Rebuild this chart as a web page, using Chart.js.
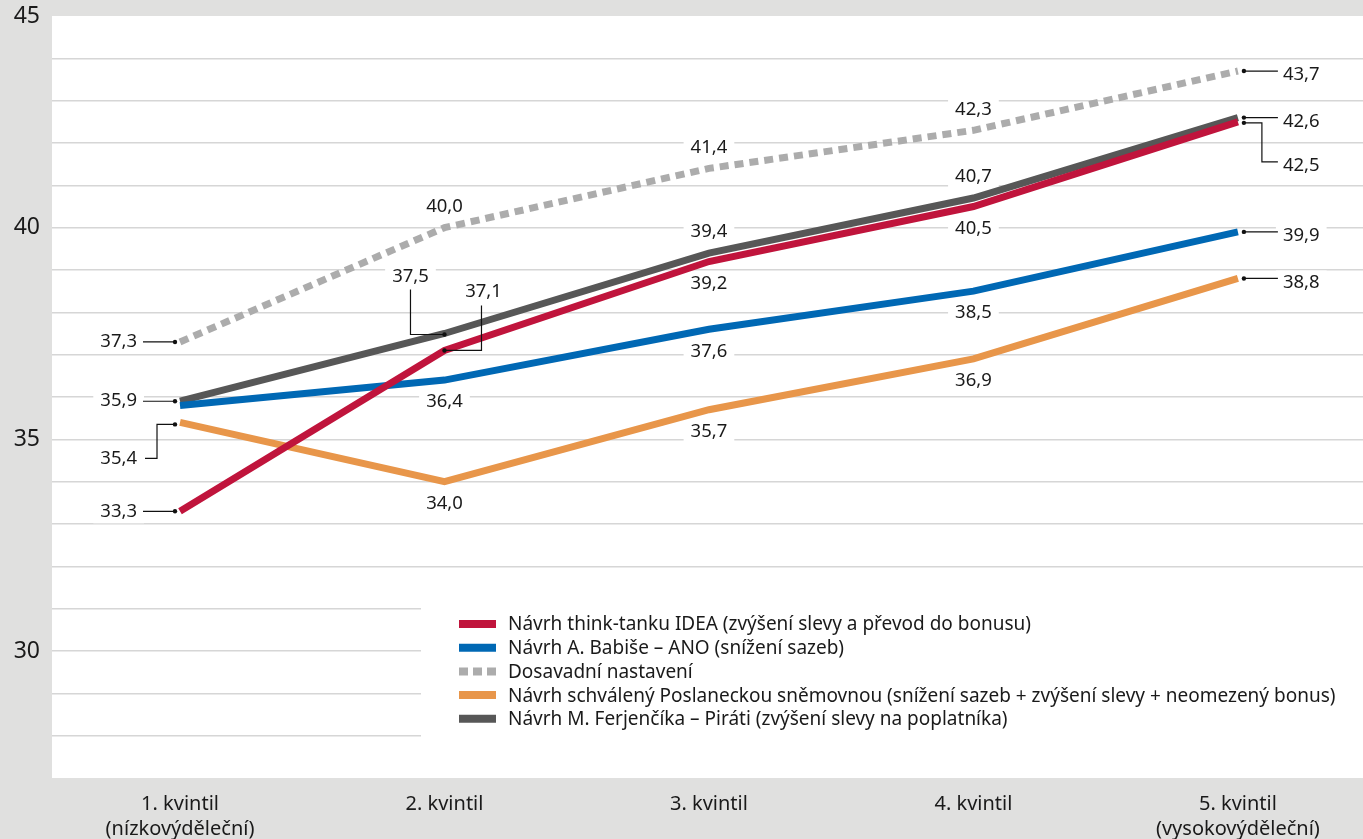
<!DOCTYPE html>
<html><head><meta charset="utf-8">
<script src="https://cdn.jsdelivr.net/npm/chart.js@4.4.1/dist/chart.umd.min.js"></script>
<style>html,body{margin:0;padding:0;background:#e0e0df;overflow:hidden}#wrap{width:1363px;height:839px;position:relative}</style>
</head><body><div id="wrap"><canvas id="c"></canvas></div>
<script>
// ---- data ----
const categories = [
  ['1. kvintil', '(nízkovýděleční)'],
  ['2. kvintil'],
  ['3. kvintil'],
  ['4. kvintil'],
  ['5. kvintil', '(vysokovýděleční)']
];
const yTickLabels = [30, 35, 40, 45];
const ideaValues       = [33.3, 37.1, 39.2, 40.5, 42.5];
const anoValues        = [35.8, 36.4, 37.6, 38.5, 39.9];
const dosavadniValues  = [37.3, 40.0, 41.4, 42.3, 43.7];
const snemovnaValues   = [35.4, 34.0, 35.7, 36.9, 38.8];
const piratiValues     = [35.9, 37.5, 39.4, 40.7, 42.6];
const seriesNames = [
  'Návrh think-tanku IDEA (zvýšení slevy a převod do bonusu)',
  'Návrh A. Babiše – ANO (snížení sazeb)',
  'Dosavadní nastavení',
  'Návrh schválený Poslaneckou sněmovnou (snížení sazeb + zvýšení slevy + neomezený bonus)',
  'Návrh M. Ferjenčíka – Piráti (zvýšení slevy na poplatníka)'
];

// ---- styling ----
const colors = ['#c0143c', '#0068b4', '#acacac', '#e8964a', '#575757'];
const dashes = [[], [], [9, 6], [], []];
const FONT = '"Noto Sans", "DejaVu Sans", sans-serif';
const TEXT = '#1a1a1a';

// value label placement: [dataset, point, mode]
const labelLayout = [
  [2,0,'left'],[4,0,'left'],[3,0,'elbowLeft'],[0,0,'left'],
  [2,1,'above'],[4,1,'upLeft'],[0,1,'upRight'],[1,1,'below'],[3,1,'below'],
  [2,2,'above'],[4,2,'above'],[0,2,'below'],[1,2,'below'],[3,2,'below'],
  [2,3,'above'],[4,3,'above'],[0,3,'below'],[1,3,'below'],[3,3,'below'],
  [2,4,'right'],[4,4,'right'],[0,4,'elbowRight'],[1,4,'right'],[3,4,'right']
];

const allSeries = [ideaValues, anoValues, dosavadniValues, snemovnaValues, piratiValues];
const fmt = v => v.toFixed(1).replace('.', ',');

function labelGeom(ctx, chart, ds, i, mode) {
  const p = chart.getDatasetMeta(ds).data[i];
  const x = p.x, y = p.y;
  const text = fmt(allSeries[ds][i]);
  const w = ctx.measureText(text).width;
  const g = {text, w, leader: null, dot: null};
  switch (mode) {
    case 'above': g.tx = x; g.ty = y - 21; break;
    case 'below': g.tx = x; g.ty = y + 22; break;
    case 'left':
      g.tx = x - 43 - w / 2; g.ty = y;
      g.dot = [x - 5, y]; g.leader = [[x - 5, y], [x - 37, y]]; break;
    case 'elbowLeft':
      g.tx = x - 43 - w / 2; g.ty = y + 36;
      g.dot = [x - 5, y + 2]; g.leader = [[x - 5, y + 2], [x - 23, y + 2], [x - 23, y + 36], [x - 35, y + 36]]; break;
    case 'right':
      g.tx = x + 45 + w / 2; g.ty = y + 4;
      g.dot = [x + 6, y]; g.leader = [[x + 6, y], [x + 40, y]]; break;
    case 'elbowRight':
      g.tx = x + 45 + w / 2; g.ty = y + 44;
      g.dot = [x + 6, y + 1]; g.leader = [[x + 6, y + 1], [x + 24, y + 1], [x + 24, y + 40], [x + 40, y + 40]]; break;
    case 'upLeft':
      g.tx = x - 34; g.ty = y - 57;
      g.dot = [x, y + 1]; g.leader = [[x, y + 1], [x - 34, y + 1], [x - 34, y - 44]]; break;
    case 'upRight':
      g.tx = x + 39; g.ty = y - 59;
      g.dot = [x, y]; g.leader = [[x, y], [x + 37, y], [x + 37, y - 45]]; break;
  }
  return g;
}

const plotBg = {
  id: 'plotBg',
  beforeDraw(chart) {
    const {ctx, chartArea: a} = chart;
    ctx.save();
    ctx.fillStyle = '#e0e0df';
    ctx.fillRect(0, 0, chart.width, chart.height);
    ctx.fillStyle = '#ffffff';
    ctx.fillRect(a.left, a.top, a.right - a.left, a.bottom - a.top);
    ctx.restore();
  },
  beforeDatasetsDraw(chart) {
    const {ctx, chartArea: a} = chart;
    ctx.save();
    ctx.fillStyle = '#ffffff';
    ctx.fillRect(a.left + 369, 585, a.right - a.left - 369, a.bottom - 585);
    ctx.font = '18.5px ' + FONT;
    labelLayout.forEach(([ds, i, mode]) => {
      const g = labelGeom(ctx, chart, ds, i, mode);
      ctx.fillRect(g.tx - g.w / 2 - 7, g.ty - 12, g.w + 14, 24);
    });
    ctx.restore();
  },
  afterDatasetsDraw(chart) {
    const {ctx} = chart;
    ctx.save();
    ctx.font = '18.5px ' + FONT;
    ctx.textAlign = 'center';
    ctx.textBaseline = 'middle';
    labelLayout.forEach(([ds, i, mode]) => {
      const g = labelGeom(ctx, chart, ds, i, mode);
      if (g.leader) {
        ctx.strokeStyle = '#111';
        ctx.lineWidth = 1.2;
        ctx.beginPath();
        g.leader.forEach((pt, k) => k ? ctx.lineTo(pt[0], pt[1]) : ctx.moveTo(pt[0], pt[1]));
        ctx.stroke();
        ctx.fillStyle = '#111';
        ctx.beginPath();
        ctx.arc(g.dot[0], g.dot[1], 2.2, 0, Math.PI * 2);
        ctx.fill();
      }
      ctx.fillStyle = TEXT;
      ctx.fillText(g.text, g.tx, g.ty);
    });
    ctx.textAlign = 'left';
    ctx.font = '19px ' + FONT;
    seriesNames.forEach((name, k) => {
      const y = 624 + k * 23.7;
      ctx.strokeStyle = colors[k];
      ctx.lineWidth = 8;
      ctx.lineCap = 'butt';
      ctx.setLineDash(k === 2 ? [9, 5] : []);
      ctx.beginPath(); ctx.moveTo(459, y); ctx.lineTo(496, y); ctx.stroke();
      ctx.setLineDash([]);
      ctx.fillStyle = TEXT;
      ctx.fillText(name, 508, y + 1);
    });
    ctx.restore();
  }
};

const datasets = allSeries.map((vals, k) => ({
  label: seriesNames[k],
  data: vals.map((v, i) => ({x: i, y: v})),
  borderColor: colors[k],
  backgroundColor: colors[k],
  borderWidth: 7,
  borderDash: dashes[k],
  borderCapStyle: 'butt',
  borderJoinStyle: 'miter',
  pointRadius: 0,
  tension: 0,
  fill: false,
  clip: false
}));

new Chart(document.getElementById('c'), {
  type: 'line',
  data: {datasets},
  plugins: [plotBg],
  options: {
    responsive: true,
    maintainAspectRatio: false,
    animation: false,
    devicePixelRatio: 1,
    layout: {padding: {top: 16, right: 0, left: 0, bottom: 0}},
    plugins: {legend: {display: false}, tooltip: {enabled: false}},
    scales: {
      x: {
        type: 'linear',
        min: -0.484, max: 4.473,
        afterBuildTicks: ax => { ax.ticks = categories.map((c, i) => ({value: i})); },
        afterFit: ax => { ax.height = 61; ax.paddingLeft = 0; ax.paddingRight = 0; },
        grid: {display: false},
        border: {display: false},
        ticks: {
          autoSkip: false, maxRotation: 0, padding: 6,
          color: TEXT,
          font: {family: FONT, size: 20, lineHeight: 1.25},
          callback: v => categories[v]
        }
      },
      y: {
        min: 27, max: 45,
        afterFit: ax => { ax.width = 52; ax.paddingTop = 0; ax.paddingBottom = 0; },
        afterBuildTicks: ax => {
          const t = [];
          for (let v = 27; v <= 45; v++) t.push({value: v});
          ax.ticks = t;
        },
        border: {display: false},
        grid: {
          color: c => (c.tick && (c.tick.value === 27 || c.tick.value === 45)) ? 'rgba(0,0,0,0)' : '#d6d6d6',
          lineWidth: 1.5,
          drawTicks: false
        },
        ticks: {
          padding: 12,
          color: TEXT,
          font: {family: FONT, size: 23},
          callback: v => yTickLabels.includes(v) ? String(v) : ''
        }
      }
    }
  }
});
</script></body></html>
